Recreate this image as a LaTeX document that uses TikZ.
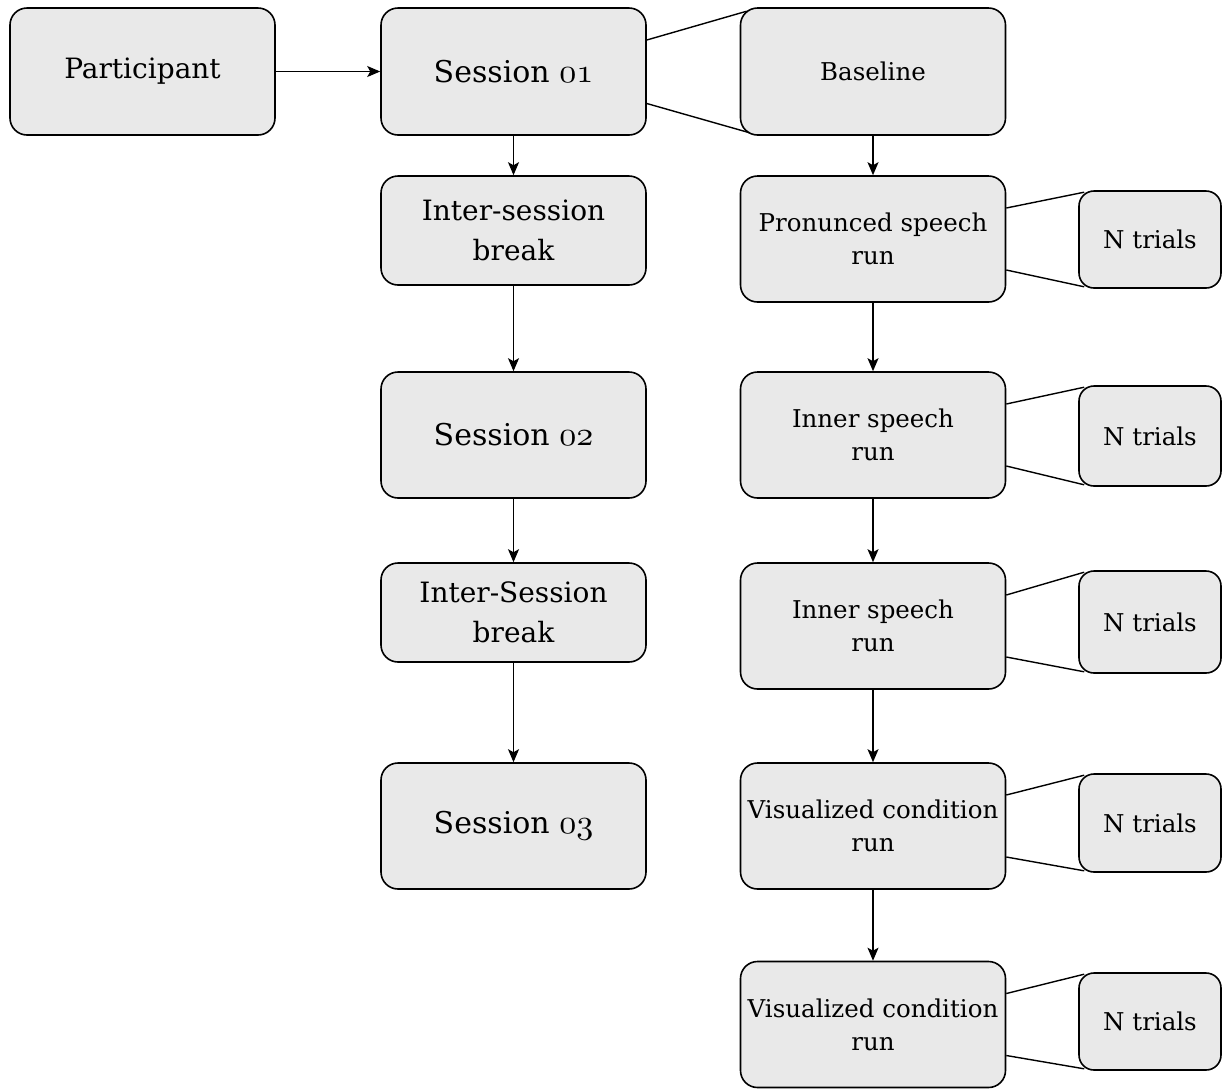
\documentclass[tikz,border=0pt]{standalone}
\usepackage{fontspec}
\setmainfont{DejaVu Serif}
\usetikzlibrary{arrows.meta,calc}
\newcommand\osn[1]{\scalebox{3.4}{\fontsize{10}{10}\usefont{OML}{cmm}{m}{it}#1}}
\definecolor{boxgray}{HTML}{E9E9E9}
\tikzset{
  box/.style={draw=black, line width=1.6pt, rounded corners=17pt, fill=boxgray,
    align=center, inner sep=0pt, minimum width=265pt, minimum height=126pt},
  tbox/.style={box, minimum width=142pt, rounded corners=15pt},
  bigtxt/.style={font=\fontsize{28}{40}\selectfont},
  sesstxt/.style={font=\fontsize{30}{40}\selectfont},
  smalltxt/.style={font=\fontsize{24.5}{33}\selectfont},
  arr/.style={draw=black, line width=1.3pt, -{Stealth[length=13pt,width=11pt,inset=3pt]}},
  zoomline/.style={draw=black, line width=1.4pt},
}
\begin{document}
\begin{tikzpicture}[x=1pt,y=-1pt]
\useasboundingbox (0,0) rectangle (1226,1088);
% left column
\node[box, bigtxt, minimum height=127pt] (part) at (142.5,71.5) {Participant};
\node[box, sesstxt, minimum height=127pt] (s1) at (513.5,71.5) {Session \osn{01}};
\node[box, bigtxt, minimum height=109pt] (isb1) at (513.5,230.5) {Inter-session\\break};
\node[box, sesstxt] (s2) at (513.5,435) {Session \osn{02}};
\node[box, bigtxt, minimum height=99pt] (isb2) at (513.5,612.5) {Inter-Session\\break};
\node[box, sesstxt] (s3) at (513.5,826) {Session \osn{03}};
% right column
\node[box, smalltxt, minimum height=127pt] (base) at (873,71.5) {Baseline};
\node[box, smalltxt] (pron) at (873,239) {Pronunced speech\\run};
\node[box, smalltxt] (inn1) at (873,435) {Inner speech\\run};
\node[box, smalltxt] (inn2) at (873,626) {Inner speech\\run};
\node[box, smalltxt] (vis1) at (873,826) {Visualized condition\\run};
\node[box, smalltxt] (vis2) at (873,1024.5) {Visualized condition\\run};
% trials
\node[tbox, smalltxt, minimum height=97pt] (n1) at (1150,239.5) {N trials};
\node[tbox, smalltxt, minimum height=100pt] (n2) at (1150,436) {N trials};
\node[tbox, smalltxt, minimum height=102pt] (n3) at (1150,622) {N trials};
\node[tbox, smalltxt, minimum height=98pt] (n4) at (1150,823) {N trials};
\node[tbox, smalltxt, minimum height=97pt] (n5) at (1150,1021.5) {N trials};
% arrows
\draw[arr] (part) -- (s1);
\draw[arr] (s1) -- (isb1);
\draw[arr] (isb1) -- (s2);
\draw[arr] (s2) -- (isb2);
\draw[arr] (isb2) -- (s3);
\draw[arr] (base) -- (pron);
\draw[arr] (pron) -- (inn1);
\draw[arr] (inn1) -- (inn2);
\draw[arr] (inn2) -- (vis1);
\draw[arr] (vis1) -- (vis2);
% zoom lines
\draw[zoomline] ($(s1.east)+(0,-31.5)$) -- ($(base.north west)+(7,4)$);
\draw[zoomline] ($(s1.east)+(0,32)$) -- ($(base.south west)+(10,-3)$);
\foreach \a/\b in {pron/n1, inn1/n2, inn2/n3, vis1/n4, vis2/n5}{
  \draw[zoomline] ($(\a.east)+(0,-31)$) -- ($(\b.north west)+(6,2)$);
  \draw[zoomline] ($(\a.east)+(0,31)$) -- ($(\b.south west)+(6,-2)$);
}
\end{tikzpicture}
\end{document}
